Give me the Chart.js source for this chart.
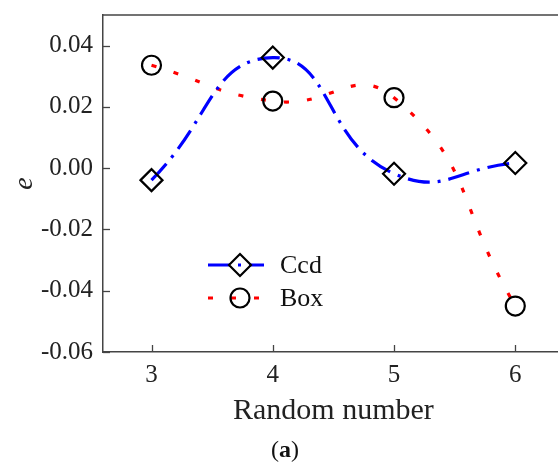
<!DOCTYPE html>
<html><head><meta charset="utf-8">
<script src="https://cdn.jsdelivr.net/npm/chart.js@4/dist/chart.umd.min.js"></script>
<style>
html,body{margin:0;padding:0;background:#fff;overflow:hidden;width:558px;height:462px;}
#wrap{position:absolute;left:0;top:0;width:577px;height:462px;}
#cap{position:absolute;top:435px;left:235px;width:100px;text-align:center;font-family:"Liberation Serif",serif;font-size:24px;color:#111;line-height:28px;}
</style></head><body>
<div id="wrap"><canvas id="c"></canvas></div>
<div id="cap">(<b>a</b>)</div>
<script>
const randomNumbers = [3, 4, 5, 6];
const ccdValues = [-0.0039, 0.0361, -0.0018, 0.0017];
const boxValues = [0.0336, 0.0219, 0.0230, -0.0450];
const seriesNames = ['Ccd', 'Box'];
const xTickValues = [3, 4, 5, 6];

const FONT = '"Liberation Serif", "Times New Roman", serif';

const frame = {
  id: 'frame',
  afterDraw(chart) {
    const ctx = chart.ctx, a = chart.chartArea;
    const xs = chart.scales.x, ys = chart.scales.y;
    ctx.save();
    ctx.strokeStyle = '#444';
    ctx.lineWidth = 1.5;
    ctx.beginPath();
    ctx.moveTo(a.left, a.top);
    ctx.lineTo(a.right, a.top);
    ctx.stroke();
    ctx.lineWidth = 1.3;
    ys.ticks.forEach(t => {
      const k = Math.round(t.value * 100);
      const len = (k % 2 === 0) ? 7 : 4;
      const py = Math.round(ys.getPixelForValue(t.value)) + 0.5;
      ctx.beginPath();
      ctx.moveTo(a.left, py);
      ctx.lineTo(a.left + len, py);
      ctx.stroke();
    });
    xs.ticks.forEach(t => {
      const px = Math.round(xs.getPixelForValue(t.value)) + 0.5;
      ctx.beginPath();
      ctx.moveTo(px, a.bottom);
      ctx.lineTo(px, a.bottom - 7);
      ctx.stroke();
    });
    const rows = [265, 298];
    chart.data.datasets.forEach((ds, i) => {
      const y = rows[i];
      const x0 = a.left + 105, x1 = a.left + 161, xm = a.left + 137;
      ctx.save();
      ctx.strokeStyle = ds.borderColor;
      ctx.lineWidth = ds.borderWidth;
      ctx.setLineDash(ds.borderDash);
      ctx.beginPath();
      ctx.moveTo(x0, y);
      ctx.lineTo(x1, y);
      ctx.stroke();
      ctx.restore();
      ctx.save();
      ctx.strokeStyle = ds.pointBorderColor;
      ctx.fillStyle = 'rgba(0,0,0,0)';
      ctx.lineWidth = ds.pointBorderWidth;
      Chart.helpers.drawPoint(ctx, {pointStyle: ds.pointStyle, radius: ds.pointRadius, borderWidth: ds.pointBorderWidth, rotation: 0}, xm, y);
      ctx.restore();
      ctx.fillStyle = '#111';
      ctx.font = '26px ' + FONT;
      ctx.textBaseline = 'middle';
      ctx.textAlign = 'left';
      ctx.fillText(ds.label, a.left + 177, y + 1);
    });
    ctx.restore();
  }
};

new Chart(document.getElementById('c'), {
  type: 'line',
  data: {
    datasets: [
      {
        label: seriesNames[0],
        data: randomNumbers.map((x, i) => ({x, y: ccdValues[i]})),
        borderColor: '#0000ff',
        borderWidth: 3.2,
        borderDash: [22, 8, 3, 8],
        tension: 0.5,
        fill: false,
        pointStyle: 'rectRot',
        pointRadius: 11,
        pointBorderColor: '#000',
        pointBackgroundColor: 'rgba(0,0,0,0)',
        pointBorderWidth: 2.2
      },
      {
        label: seriesNames[1],
        data: randomNumbers.map((x, i) => ({x, y: boxValues[i]})),
        borderColor: '#ff0000',
        borderWidth: 3.2,
        borderDash: [5, 18],
        tension: 0.5,
        fill: false,
        pointStyle: 'circle',
        pointRadius: 9.5,
        pointBorderColor: '#000',
        pointBackgroundColor: 'rgba(0,0,0,0)',
        pointBorderWidth: 2.2
      }
    ]
  },
  options: {
    responsive: true,
    maintainAspectRatio: false,
    animation: false,
    devicePixelRatio: 1,
    layout: {padding: {top: 15, left: 4, right: 0, bottom: 30}},
    plugins: {legend: {display: false}, tooltip: {enabled: false}},
    scales: {
      x: {
        type: 'linear',
        min: 2.6,
        max: 6.4,
        afterBuildTicks: s => { s.ticks = xTickValues.map(v => ({value: v})); },
        afterFit: s => { s.height = 80; s.paddingLeft = 0; s.paddingRight = 0; },
        grid: {display: false, drawTicks: false},
        border: {display: true, color: '#444', width: 1.5},
        ticks: {
          autoSkip: false, maxRotation: 0, padding: 8, color: '#222',
          font: {family: FONT, size: 25},
          callback: v => String(v)
        },
        title: {display: true, text: 'Random number', color: '#222', font: {family: FONT, size: 30}, padding: {top: 4, bottom: 3}}
      },
      y: {
        min: -0.06,
        max: 0.05,
        afterBuildTicks: s => {
          const t = [];
          for (let k = -6; k <= 5; k++) t.push({value: k / 100});
          s.ticks = t;
        },
        afterFit: s => { s.width = 99; s.paddingTop = 0; s.paddingBottom = 0; },
        grid: {display: false, drawTicks: false},
        border: {display: true, color: '#444', width: 1.5},
        ticks: {
          autoSkip: false, padding: 10, color: '#222',
          font: {family: FONT, size: 25},
          callback: v => {
            const k = Math.round(v * 100);
            if (k % 2 !== 0 || k > 4) return null;
            return (k / 100).toFixed(2);
          }
        },
        title: {display: true, text: 'e', color: '#222', font: {family: FONT, size: 28, style: 'italic'}, padding: {top: 4, bottom: 4}}
      }
    }
  },
  plugins: [frame]
});
</script>
</body></html>
